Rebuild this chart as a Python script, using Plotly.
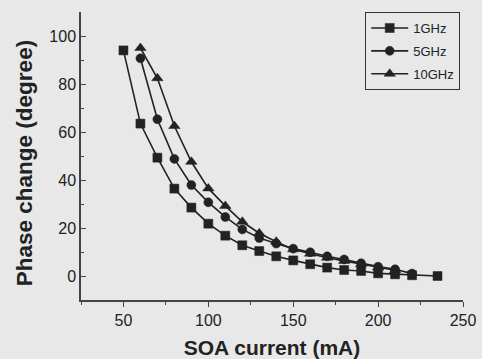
import plotly.graph_objects as go

# Data
x_1ghz = [50, 60, 70, 80, 90, 100, 110, 120, 130, 140, 150, 160, 170, 180, 190, 200, 210, 220, 235]
y_1ghz = [94, 63.5, 49.3, 36.4, 28.5, 21.8, 16.8, 12.8, 10.4, 8.2, 6.5, 4.9, 3.5, 2.5, 2.1, 1.1, 0.7, 0.3, 0]

x_5ghz = [60, 70, 80, 90, 100, 110, 120, 130, 140, 150, 160, 170, 180, 190, 200, 210, 220]
y_5ghz = [90.7, 65.3, 48.8, 37.9, 30.7, 24.6, 19.4, 15.8, 13.5, 11.4, 9.9, 8.2, 6.9, 5.3, 3.9, 2.8, 1.0]

x_10ghz = [60, 70, 80, 90, 100, 110, 120, 130, 140, 150, 160, 170, 180, 190, 200, 210]
y_10ghz = [95.0, 82.4, 62.5, 47.6, 36.5, 29.2, 22.6, 17.8, 14.3, 11.1, 9.3, 7.6, 6.3, 4.9, 3.5, 2.4]

series_names = ["1GHz", "5GHz", "10GHz"]
x_ticks = [50, 100, 150, 200, 250]
y_ticks = [0, 20, 40, 60, 80, 100]
y_title = "Phase change (degree)"
x_title = "SOA current (mA)"

ink = "#222222"
bg = "#e8e8e8"
font_family = "Liberation Sans, Arial, sans-serif"

fig = go.Figure()
for name, xs, ys, sym, size in [
    (series_names[0], x_1ghz, y_1ghz, "square", 9),
    (series_names[1], x_5ghz, y_5ghz, "circle", 9),
    (series_names[2], x_10ghz, y_10ghz, "triangle-up", 10),
]:
    fig.add_trace(go.Scatter(
        x=xs, y=ys, name=name, legendgroup=name, mode="lines+markers",
        line=dict(color=ink, width=1.6),
        marker=dict(symbol=sym, size=size, color=ink, line=dict(color=ink, width=0.5)),
    ))

fig.update_layout(
    width=482, height=359,
    margin=dict(l=81, r=19, t=12, b=59),
    paper_bgcolor=bg, plot_bgcolor=bg,
    font=dict(family=font_family, color=ink, size=16),
    showlegend=True,
    legend=dict(
        x=0.744, y=1.0, xanchor="left", yanchor="top",
        bgcolor=bg, bordercolor="#333333", borderwidth=1,
        font=dict(size=13, color=ink), itemwidth=37,
        tracegroupgap=3,
    ),
)

fig.add_annotation(
    text="<b>%s</b>" % y_title, textangle=-90,
    xref="paper", yref="paper", x=(24 - 81) / 382, y=0.475,
    xanchor="center", yanchor="middle", showarrow=False,
    font=dict(size=22.5, color=ink),
)

fig.update_xaxes(
    range=[25, 250], tickvals=x_ticks, ticktext=[str(v) for v in x_ticks],
    showline=True, linecolor="#444444", linewidth=1.5,
    ticks="outside", ticklen=5, tickcolor="#444444",
    minor=dict(dtick=25, tick0=25, ticks="outside", ticklen=3, tickcolor="#444444"),
    showgrid=False, zeroline=False, automargin=False,
    tickfont=dict(size=16),
    title=dict(text="<b>%s</b>" % x_title, font=dict(size=21), standoff=12),
)
fig.update_yaxes(
    range=[-10, 110], tickvals=y_ticks, ticktext=[str(v) for v in y_ticks],
    showline=True, linecolor="#444444", linewidth=1.5,
    ticks="inside", ticklen=5, tickcolor="#444444",
    minor=dict(dtick=10, tick0=0, ticks="inside", ticklen=3, tickcolor="#444444"),
    showgrid=False, zeroline=False, automargin=False,
    tickfont=dict(size=16),
)

fig.write_html(
    "out.html",
    config={"displayModeBar": False},
    post_script="document.body.style.margin='0';document.body.style.background='%s';" % bg,
)
